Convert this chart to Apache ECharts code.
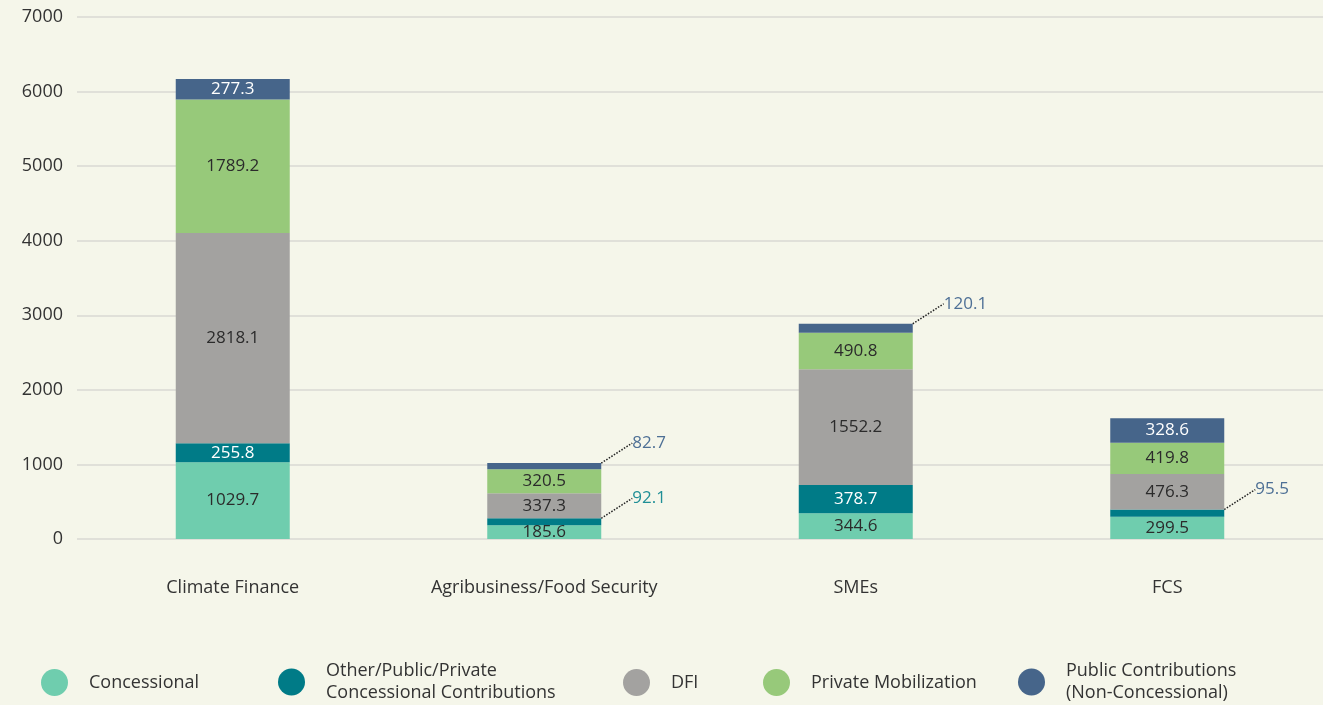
<!DOCTYPE html>
<html><head><meta charset="utf-8">
<script src="https://cdn.jsdelivr.net/npm/echarts@6/dist/echarts.min.js"></script>
<style>html,body{margin:0;padding:0;background:#f5f6ea;}#c{width:1323px;height:705px;}</style>
</head><body><div id="c"></div>
<script>
const categories = ['Climate Finance', 'Agribusiness/Food Security', 'SMEs', 'FCS'];
const concessional = [1029.7, 185.6, 344.6, 299.5];
const otherConcessional = [255.8, 92.1, 378.7, 95.5];
const dfi = [2818.1, 337.3, 1552.2, 476.3];
const privateMobilization = [1789.2, 320.5, 490.8, 419.8];
const publicNonConcessional = [277.3, 82.7, 120.1, 328.6];
const yTicks = [0, 1000, 2000, 3000, 4000, 5000, 6000, 7000];
// which categories get an outside label with a leader line, per series
const outsideOther = [false, true, false, true];
const outsidePublic = [false, true, true, false];
const outsideOtherColors = [null, '#1f8f96', null, '#4d6f95'];
const outsidePublicColors = [null, '#4d6f95', '#4d6f95', null];

const names = ['Concessional', 'Other/Public/Private\nConcessional Contributions', 'DFI', 'Private Mobilization', 'Public Contributions\n(Non-Concessional)'];
const colors = ['#6fcdae', '#007b87', '#a3a2a0', '#97c97a', '#46658a'];
const textColors = ['#2b2b2b', '#ffffff', '#2b2b2b', '#2b2b2b', '#ffffff'];
const values = [concessional, otherConcessional, dfi, privateMobilization, publicNonConcessional];
const outsideFlags = [null, outsideOther, null, null, outsidePublic];
const outsideColors = [null, outsideOtherColors, null, null, outsidePublicColors];
const FONT = '"Open Sans", sans-serif';

const series = values.map((arr, si) => ({
  name: names[si],
  type: 'bar',
  stack: 'total',
  barWidth: 114,
  itemStyle: { color: colors[si] },
  label: { show: true, position: 'inside', color: textColors[si], fontSize: 17, fontFamily: FONT,
    formatter: p => p.value.toFixed(1) },
  labelLine: { show: false },
  labelLayout: function (params) {
    const f = outsideFlags[si];
    if (f && f[params.dataIndex]) {
      const r = params.rect;
      return { x: r.x + r.width + 31, y: r.y - 20, align: 'left', verticalAlign: 'middle' };
    }
    return {};
  },
  data: arr.map((v, i) => {
    const f = outsideFlags[si];
    if (f && f[i]) {
      return { value: v,
        label: { color: outsideColors[si][i], fontSize: 17 },
        labelLine: { show: true, length2: 0, lineStyle: { type: 'dotted', color: '#222', width: 1.5 } } };
    }
    return v;
  })
}));

const legendLefts = [41, 278, 623, 763, 1018];
const legendTops = [669, 660, 669, 669, 660];
const legends = names.map((n, i) => ({
  data: [n], left: legendLefts[i], top: legendTops[i], padding: 0, icon: 'circle', itemWidth: 27, itemHeight: 28, itemGap: 0,
  textStyle: { fontSize: 18, color: '#333', fontFamily: FONT, padding: [0, 0, 0, 16], lineHeight: 22 },
  selectedMode: false
}));

const chart = echarts.init(document.getElementById('c'));
chart.setOption({
  backgroundColor: '#f5f6ea',
  animation: false,
  grid: { left: 77, right: 0, top: 17, bottom: 166 },
  legend: legends,
  xAxis: {
    type: 'category', data: categories,
    axisLine: { show: false }, axisTick: { show: false },
    axisLabel: { fontSize: 18, color: '#333', fontFamily: FONT, margin: 40 }
  },
  yAxis: {
    type: 'value', min: 0, max: 7000, interval: 1000,
    axisLine: { show: false }, axisTick: { show: false },
    splitLine: { lineStyle: { color: '#d9d9d3', width: 1.5 } },
    axisLabel: { fontSize: 18, color: '#333', fontFamily: FONT, margin: 14,
      formatter: v => yTicks.includes(v) ? String(v) : '' }
  },
  series: series
});
</script></body></html>
